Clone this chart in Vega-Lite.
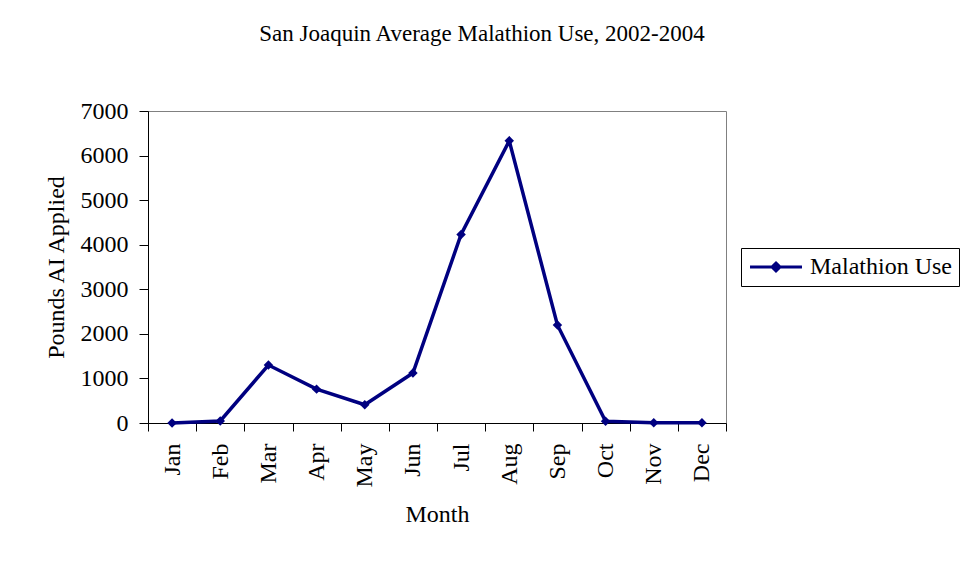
{
  "$schema": "https://vega.github.io/schema/vega-lite/v6.json",
  "autosize": {"type": "none"},
  "width": 578,
  "height": 312,
  "padding": {"left": 148, "top": 111, "right": 238, "bottom": 140},
  "background": "white",
  "title": {
    "text": "San Joaquin Average Malathion Use, 2002-2004",
    "font": "Liberation Serif",
    "fontSize": 23,
    "fontWeight": "normal",
    "color": "black",
    "anchor": "middle",
    "dx": 45,
    "offset": 53
  },
  "data": {
    "values": [
      {"month": "Jan", "pounds": 0, "series": "Malathion Use"},
      {"month": "Feb", "pounds": 45, "series": "Malathion Use"},
      {"month": "Mar", "pounds": 1300, "series": "Malathion Use"},
      {"month": "Apr", "pounds": 760, "series": "Malathion Use"},
      {"month": "May", "pounds": 410, "series": "Malathion Use"},
      {"month": "Jun", "pounds": 1120, "series": "Malathion Use"},
      {"month": "Jul", "pounds": 4230, "series": "Malathion Use"},
      {"month": "Aug", "pounds": 6330, "series": "Malathion Use"},
      {"month": "Sep", "pounds": 2200, "series": "Malathion Use"},
      {"month": "Oct", "pounds": 40, "series": "Malathion Use"},
      {"month": "Nov", "pounds": 5, "series": "Malathion Use"},
      {"month": "Dec", "pounds": 5, "series": "Malathion Use"}
    ]
  },
  "mark": {
    "type": "line",
    "strokeWidth": 3.5,
    "point": {"shape": "diamond", "size": 90, "filled": true, "color": "#000080"}
  },
  "encoding": {
    "x": {
      "field": "month",
      "type": "nominal",
      "sort": ["Jan","Feb","Mar","Apr","May","Jun","Jul","Aug","Sep","Oct","Nov","Dec"],
      "scale": {"paddingInner": 0, "paddingOuter": 0},
      "axis": {
        "title": "Month",
        "labelAngle": -90,
        "labelFont": "Liberation Serif",
        "labelFontSize": 24,
        "labelColor": "black",
        "labelPadding": 12,
        "tickBand": "extent",
        "tickSize": 8,
        "tickColor": "black",
        "domainColor": "black",
        "titleFont": "Liberation Serif",
        "titleFontSize": 24,
        "titleFontWeight": "normal",
        "titleColor": "black",
        "titlePadding": 16
      }
    },
    "y": {
      "field": "pounds",
      "type": "quantitative",
      "scale": {"domain": [0, 7000], "nice": false},
      "axis": {
        "title": "Pounds AI Applied",
        "values": [0, 1000, 2000, 3000, 4000, 5000, 6000, 7000],
        "format": "d",
        "grid": false,
        "labelFont": "Liberation Serif",
        "labelFontSize": 24,
        "labelColor": "black",
        "labelPadding": 11,
        "tickSize": 9,
        "tickColor": "black",
        "domainColor": "black",
        "titleFont": "Liberation Serif",
        "titleFontSize": 24,
        "titleFontWeight": "normal",
        "titleColor": "black",
        "titlePadding": 12
      }
    },
    "color": {
      "field": "series",
      "type": "nominal",
      "scale": {"range": ["#000080"]},
      "legend": {
        "title": null,
        "orient": "none",
        "legendX": 593,
        "legendY": 137,
        "strokeColor": "black",
        "padding": 7,
        "labelFont": "Liberation Serif",
        "labelFontSize": 24,
        "labelColor": "black",
        "labelOffset": 22,
        "symbolOffset": 16,
        "symbolType": "M -3 0 L 3 0 M 0 -0.46 L 0.46 0 L 0 0.46 L -0.46 0 Z",
        "symbolSize": 300,
        "symbolStrokeWidth": 3,
        "symbolFillColor": "#000080",
        "symbolStrokeColor": "#000080",
        "encode": {
          "symbols": {"update": {"fill": {"value": "#000080"}, "stroke": {"value": "#000080"}, "strokeWidth": {"value": 3}, "opacity": {"value": 1}}}
        }
      }
    }
  },
  "config": {
    "view": {"stroke": "#808080", "strokeWidth": 1}
  }
}
